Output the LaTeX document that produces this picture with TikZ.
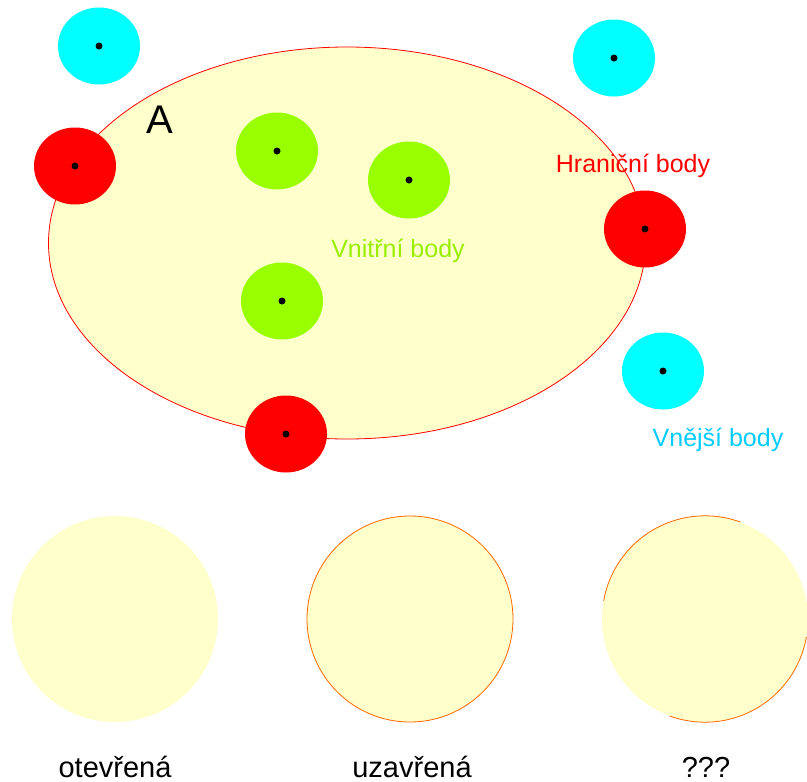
\documentclass[tikz,border=0pt]{standalone}
\usepackage{fontspec}
\usetikzlibrary{shapes.geometric}
\setmainfont{Liberation Sans}
\definecolor{setfill}{HTML}{FFFFCC}
\definecolor{cyanpt}{HTML}{00FFFF}
\definecolor{greenpt}{HTML}{99FF00}
\definecolor{redpt}{HTML}{FF0000}
\definecolor{outlabel}{HTML}{00CCFF}
\definecolor{inlabel}{HTML}{99EE00}
\definecolor{rim}{HTML}{FF6600}
\begin{document}
\begin{tikzpicture}[x=1pt,y=-1pt,
  pt/.style={ellipse, minimum width=82pt, minimum height=77pt, inner sep=0pt},
  dot/.style={circle, fill=black, minimum size=7pt, inner sep=0pt},
  lbl/.style={font=\fontsize{25}{28}\selectfont, inner sep=0pt},
  bot/.style={font=\fontsize{29}{32}\selectfont, inner sep=0pt, anchor=base},
  disk/.style={circle, minimum size=206pt, inner sep=0pt, fill=setfill}]
\useasboundingbox (0,0) rectangle (807,782);
% main set
\node[ellipse, draw=red, line width=0.8pt, fill=setfill, minimum width=597pt, minimum height=392pt, inner sep=0pt] (A) at (347,243) {};
\node[font=\fontsize{40}{44}\selectfont, inner sep=0pt] (Alab) at (160,120) {A};
% exterior points
\foreach \n/\x/\y in {e1/99/46, e2/614/58, e3/663/371}{
  \node[pt, fill=cyanpt] (\n) at (\x,\y) {};
  \node[dot] at (\n) {};
}
% interior points
\foreach \n/\x/\y in {i1/277/151, i2/409/180, i3/282/301}{
  \node[pt, fill=greenpt] (\n) at (\x,\y) {};
  \node[dot] at (\n) {};
}
% boundary points
\foreach \n/\x/\y in {b1/75/166, b2/645/229, b3/286/434}{
  \node[pt, fill=redpt] (\n) at (\x,\y) {};
  \node[dot] at (\n) {};
}
\node[lbl, text=redpt] (hl) at (633,166) {Hraniční body};
\node[lbl, text=inlabel] (il) at (398,251) {Vnitřní body};
\node[lbl, text=outlabel] (ol) at (718,440) {Vnější body};
% bottom disks
\node[disk] (open) at (115,619) {};
\node[disk, draw=rim, line width=0.8pt] (closed) at (410,619) {};
\node[disk] (neither) at (705,619) {};
\draw[rim, line width=0.8pt] (neither.70) arc[start angle=70, end angle=170, radius=103pt];
\draw[rim, line width=0.8pt] (neither.250) arc[start angle=250, end angle=350, radius=103pt];
\node[bot] (t1) at (115,777) {otevřená};
\node[bot] (t2) at (412,777) {uzavřená};
\node[bot] (t3) at (706,777) {???};
\end{tikzpicture}
\end{document}
